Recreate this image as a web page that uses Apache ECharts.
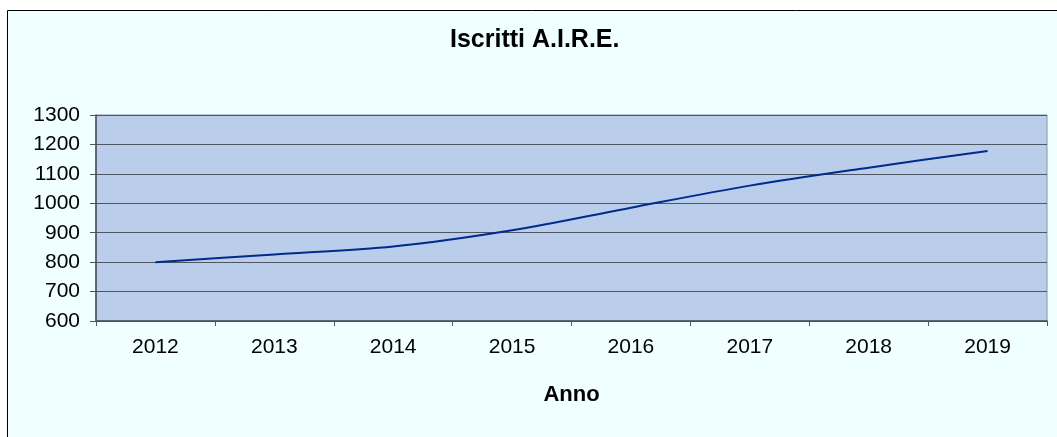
<!DOCTYPE html>
<html>
<head>
<meta charset="utf-8">
<script src="https://cdn.jsdelivr.net/npm/echarts@6/dist/echarts.min.js"></script>
<style>
  html, body { margin: 0; padding: 0; background: #ffffff; }
  #chart { width: 1057px; height: 437px; }
</style>
</head>
<body>
<div id="chart"></div>
<script>
// dati
const anni = ['2012', '2013', '2014', '2015', '2016', '2017', '2018', '2019'];
const iscritti = [800, 826, 853, 908, 985, 1060, 1121, 1178];

const chart = echarts.init(document.getElementById('chart'));
const font = 'Liberation Sans, Arial, sans-serif';

const option = {
  backgroundColor: '#ffffff',
  animation: false,
  graphic: [{
    type: 'rect',
    z: -10,
    shape: { x: 7.5, y: 10.5, width: 1100, height: 500 },
    style: { fill: '#f0ffff', stroke: '#000000', lineWidth: 1 }
  }],
  title: {
    text: 'Iscritti A.I.R.E.',
    left: 450,
    top: 28,
    padding: 0,
    textStyle: { fontFamily: font, fontSize: 25, fontWeight: 'bold', color: '#000' }
  },
  grid: {
    left: 96,
    right: 10,
    top: 115,
    bottom: 116,
    show: true,
    backgroundColor: '#bacdea',
    borderColor: '#8a93a6',
    borderWidth: 1
  },
  xAxis: {
    type: 'category',
    data: anni,
    boundaryGap: true,
    name: 'Anno',
    nameLocation: 'middle',
    nameGap: 63,
    nameTextStyle: { fontFamily: font, fontSize: 22, fontWeight: 'bold', color: '#000' },
    axisLine: { lineStyle: { color: '#474d5a', width: 1.5 } },
    axisTick: { show: true, length: 5, lineStyle: { color: '#555' } },
    axisLabel: { fontFamily: font, fontSize: 21, color: '#000', margin: 16 },
    splitLine: { show: false }
  },
  yAxis: {
    type: 'value',
    min: 600,
    max: 1300,
    interval: 100,
    axisLine: { show: true, lineStyle: { color: '#474d5a', width: 1.5 } },
    axisTick: { show: true, length: 6, lineStyle: { color: '#555' } },
    axisLabel: {
      fontFamily: font, fontSize: 21, color: '#000', margin: 16,
      formatter: function (v) { return String(v); }
    },
    splitLine: { lineStyle: { color: '#4e5663', width: 1.2 } }
  },
  series: [{
    name: 'Iscritti',
    type: 'line',
    data: iscritti,
    smooth: 0.3,
    symbol: 'none',
    lineStyle: { color: '#002a8c', width: 2 }
  }]
};

chart.setOption(option);
</script>
</body>
</html>
